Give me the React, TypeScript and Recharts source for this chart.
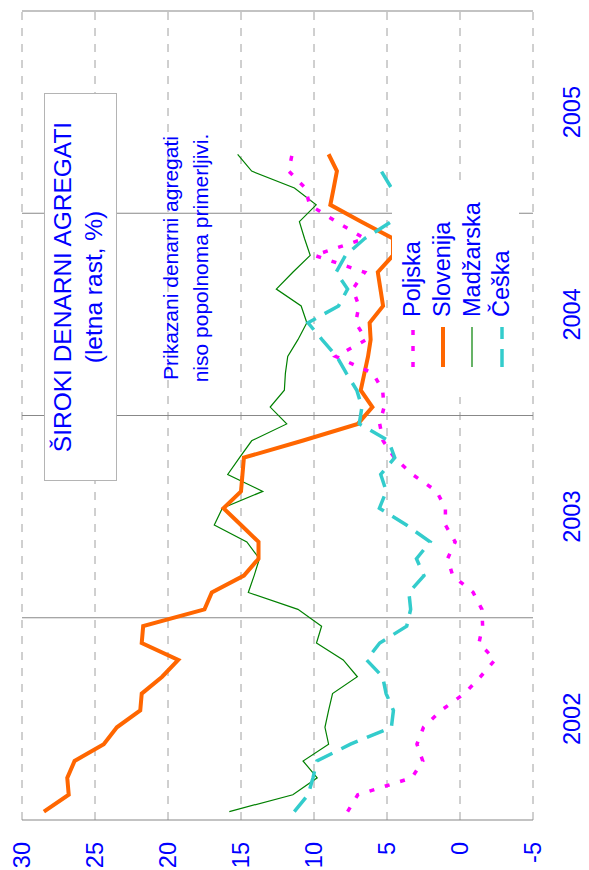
import React from 'react';
import { LineChart, Line, XAxis, YAxis, CartesianGrid, ReferenceLine, Legend } from 'recharts';

const MONTHS = [
  '2002-01', '2002-02', '2002-03', '2002-04', '2002-05', '2002-06', '2002-07', '2002-08', '2002-09', '2002-10', '2002-11', '2002-12',
  '2003-01', '2003-02', '2003-03', '2003-04', '2003-05', '2003-06', '2003-07', '2003-08', '2003-09', '2003-10', '2003-11', '2003-12',
  '2004-01', '2004-02', '2004-03', '2004-04', '2004-05', '2004-06', '2004-07', '2004-08', '2004-09', '2004-10', '2004-11', '2004-12',
  '2005-01', '2005-02', '2005-03', '2005-04',
];

const YEARS = ['2002', '2003', '2004', '2005'];
const YEAR_TICKS = [6, 18, 30, 42];
const YEAR_BOUNDS = [0, 12, 24, 36, 48];
const VALUE_TICKS = [-5, 0, 5, 10, 15, 20, 25, 30];

const POLJSKA = [7.7, 7.0, 3.3, 2.55, 2.95, 2.5, 1.3, -0.3, -1.4, -2.4, -1.3, -1.55, -1.5, -0.9, 0.5, 0.85, 0.33, 1.0, 1.0, 1.6, 3.25, 4.5, 5.27, 5.5, 5.2, 5.3, 5.96, 8.5, 6.42, 7.15, 6.92, 7.35, 6.53, 9.97, 6.53, 8.48, 10.3, 10.6, 11.73, 11.5];
const SLOVENIJA = [28.5, 26.8, 26.9, 26.4, 24.4, 23.5, 21.9, 21.8, 20.4, 19.3, 21.8, 21.7, 17.5, 17.0, 14.8, 13.8, 13.8, 15.0, 16.2, 15.0, 14.9, 14.8, 10.8, 7.0, 6.0, 6.8, 6.55, 6.3, 6.12, 6.19, 5.27, 5.45, 5.63, 4.59, 4.59, 6.76, 8.88, 8.65, 8.43, 9.0];
const MADZARSKA = [15.8, 11.45, 9.78, 10.75, 9.0, 9.25, 9.0, 8.73, 7.03, 8.0, 9.83, 9.48, 11.1, 14.5, 14.1, 13.74, 14.6, 16.83, 16.28, 13.51, 15.91, 15.1, 14.27, 11.87, 13.0, 12.03, 11.96, 11.8, 11.1, 10.49, 10.88, 12.58, 11.45, 10.26, 10.65, 11.0, 9.85, 11.34, 14.27, 15.23];
const CESKA = [11.35, 10.4, 10.07, 9.8, 7.5, 4.7, 4.56, 5.06, 5.3, 6.4, 5.5, 3.65, 3.38, 3.5, 2.47, 2.98, 2.05, 3.67, 5.52, 5.05, 5.43, 4.47, 4.9, 6.9, 6.72, 7.07, 7.78, 8.44, 9.45, 10.41, 8.32, 7.7, 8.48, 7.84, 6.53, 4.7, 4.36, 4.7, 5.39, null];

const SERIES = [
  { key: 'Poljska', name: 'Poljska', color: '#FF00FF', width: 3.5, dash: '5 11' },
  { key: 'Slovenija', name: 'Slovenija', color: '#FF6600', width: 4, dash: undefined },
  { key: 'Madzarska', name: 'Madžarska', color: '#008000', width: 1.2, dash: undefined },
  { key: 'Ceska', name: 'Češka', color: '#33CCCC', width: 3.5, dash: '18 10' },
];
const DRAW_ORDER = ['Madzarska', 'Slovenija', 'Poljska', 'Ceska'];

const data = MONTHS.map((m, i) => ({
  month: m,
  t: i + 0.5,
  Poljska: POLJSKA[i] ?? null,
  Slovenija: SLOVENIJA[i] ?? null,
  Madzarska: MADZARSKA[i] ?? null,
  Ceska: CESKA[i] ?? null,
}));

const FONT = '"Liberation Sans", Arial, Helvetica, sans-serif';
const BLUE = '#0000FF';

const renderLegend = (props: any) => {
  const payload = props.payload || [];
  const items = SERIES.map((s) => ({ s, p: payload.find((p: any) => p.value === s.name) })).filter((x) => x.p);
  return (
    <div style={{ position: 'relative', width: 214, height: 127, background: '#fff', fontFamily: FONT }}>
      {items.map(({ s, p }, i) => (
        <div
          key={s.key}
          style={{ position: 'absolute', left: 0, top: 6 + i * 29.7, height: 30, display: 'flex', alignItems: 'center' }}
        >
          <svg width={70} height={30} style={{ display: 'block' }}>
            <line x1={30} y1={15} x2={70} y2={15} stroke={p.color} strokeWidth={s.width} strokeDasharray={s.dash} />
          </svg>
          <span style={{ marginLeft: 10, fontSize: 23.5, color: BLUE, lineHeight: 1, whiteSpace: 'nowrap' }}>{p.value}</span>
        </div>
      ))}
    </div>
  );
};

export default function App() {
  return (
    <div style={{ position: 'absolute', left: 0, top: 0, width: 589, height: 870, overflow: 'hidden', background: '#fff' }}>
      <div
        style={{
          position: 'absolute',
          left: 0,
          top: 0,
          width: 870,
          height: 589,
          transformOrigin: '0 0',
          transform: 'translateY(870px) rotate(-90deg)',
          fontFamily: FONT,
        }}
      >
        <LineChart width={870} height={589} data={data} margin={{ top: 22, right: 11, bottom: 0, left: 0 }} style={{ fontFamily: FONT }}>
          <CartesianGrid vertical={false} stroke="#a0a0a0" strokeDasharray="8 8" strokeWidth={1} />
          {YEAR_BOUNDS.map((b) => (
            <ReferenceLine key={b} x={b} stroke="#888888" strokeWidth={1.2} />
          ))}
          <XAxis
            dataKey="t"
            type="number"
            domain={[0, 48]}
            ticks={YEAR_TICKS}
            tickFormatter={(v: number) => YEARS[YEAR_TICKS.indexOf(v)] ?? ''}
            axisLine={false}
            tickLine={false}
            tickSize={0}
            tickMargin={30}
            height={56}
            tick={{ fill: BLUE, fontSize: 23.5, fontFamily: FONT }}
            interval={0}
          />
          <YAxis
            type="number"
            domain={[-5, 30]}
            ticks={VALUE_TICKS}
            axisLine={false}
            tickLine={false}
            tickSize={0}
            tickMargin={22}
            width={50}
            tick={{ fill: BLUE, fontSize: 23.5, fontFamily: FONT }}
            interval={0}
          />
          {DRAW_ORDER.map((k) => {
            const s = SERIES.find((x) => x.key === k)!;
            return (
              <Line
                key={s.key}
                dataKey={s.key}
                name={s.name}
                type="linear"
                stroke={s.color}
                strokeWidth={s.width}
                strokeDasharray={s.dash}
                dot={false}
                activeDot={false}
                isAnimationActive={false}
                connectNulls={false}
              />
            );
          })}
          <Legend
            layout="vertical"
            align="center"
            verticalAlign="middle"
            width={214}
            height={127}
            content={renderLegend}
            wrapperStyle={{ left: 473, top: 392, width: 214, height: 127, right: 'auto', bottom: 'auto' }}
          />
        </LineChart>

        <div
          style={{
            position: 'absolute',
            left: 389,
            top: 44,
            width: 388,
            height: 73,
            boxSizing: 'border-box',
            border: '1px solid #b4b4b4',
            background: '#fff',
          }}
        >
          <div style={{ position: 'absolute', left: 0, width: '100%', top: 5.7, textAlign: 'center', fontSize: 24.5, lineHeight: '24px', color: BLUE, whiteSpace: 'nowrap' }}>
            ŠIROKI DENARNI AGREGATI
          </div>
          <div style={{ position: 'absolute', left: 0, width: '100%', top: 37.2, textAlign: 'center', fontSize: 24.5, lineHeight: '24px', color: BLUE, whiteSpace: 'nowrap' }}>
            (letna rast, %)
          </div>
        </div>

        <div style={{ position: 'absolute', left: 462, width: 300, top: 160, textAlign: 'center', fontSize: 21, lineHeight: '21px', color: BLUE, whiteSpace: 'nowrap' }}>
          Prikazani denarni agregati
        </div>
        <div style={{ position: 'absolute', left: 462, width: 300, top: 189.7, textAlign: 'center', fontSize: 21, lineHeight: '21px', color: BLUE, whiteSpace: 'nowrap' }}>
          niso popolnoma primerljivi.
        </div>
      </div>
    </div>
  );
}
